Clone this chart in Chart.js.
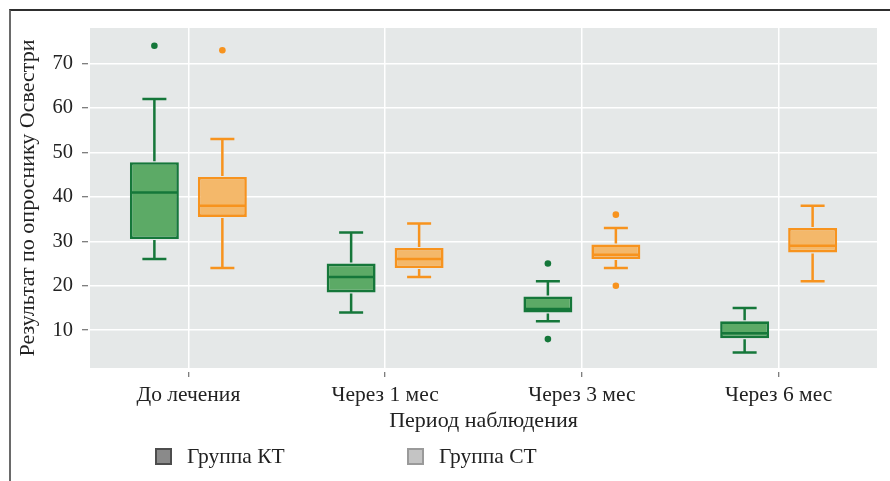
<!DOCTYPE html>
<html lang="ru">
<head>
<meta charset="utf-8">
<title>Результат по опроснику Освестри</title>
<script src="https://cdn.jsdelivr.net/npm/chart.js@4.4.1/dist/chart.umd.min.js"></script>
<style>
    html, body { margin: 0; padding: 0; background: #fff; }
    .frame {
        position: absolute; left: 9px; top: 9px; width: 881px; height: 472px;
        border-top: 2px solid #2e2e2e; border-left: 2px solid #6a6a6a;
    }
    #chart { position: absolute; left: 0; top: 0; }
</style>
</head>
<body>
<div class="frame"></div>
<canvas id="chart" width="890" height="481"></canvas>
<script>
// Categories (observation period)
const categories = ['До лечения', 'Через 1 мес', 'Через 3 мес', 'Через 6 мес'];

// Group KT - box statistics
const ktMin = [26, 14, 12, 5];
const ktQ1 = [30.5, 18.5, 14, 8.2];
const ktMedian = [41, 22, 14.8, 9.3];
const ktQ3 = [47.8, 25, 17.6, 12];
const ktMax = [62, 32, 21, 15];
const ktOutliers = [[74], [], [25, 8], []];

// Group CT - box statistics
const ctMin = [24, 22, 24, 21];
const ctQ1 = [35.5, 24, 26, 27.5];
const ctMedian = [38, 26, 27, 29];
const ctQ3 = [44.5, 28.5, 29.3, 33];
const ctMax = [53, 34, 33, 38];
const ctOutliers = [[73], [], [36, 20], []];

// Y axis ticks
const yTicks = [10, 20, 30, 40, 50, 60, 70];

const FONT = "'Liberation Serif', 'DejaVu Serif', serif";
const TEXT = '#222';

const groups = [
    { label: 'Группа КТ', min: ktMin, q1: ktQ1, med: ktMedian, q3: ktQ3, max: ktMax, out: ktOutliers,
      fill: '#5caa66', edge: '#15773a', legFill: '#8a8a8a', legEdge: '#4d4d4d' },
    { label: 'Группа СТ', min: ctMin, q1: ctQ1, med: ctMedian, q3: ctQ3, max: ctMax, out: ctOutliers,
      fill: '#f4b86a', edge: '#f7931e', legFill: '#c4c4c4', legEdge: '#9a9a9a' }
];

// plot panel background
const panelBg = {
    id: 'panelBg',
    beforeDraw(chart) {
        const { ctx, chartArea: a } = chart;
        ctx.save();
        ctx.fillStyle = '#e5e8e8';
        ctx.fillRect(a.left, a.top, a.right - a.left, a.bottom - a.top);
        ctx.restore();
    }
};

// whiskers, medians and outliers on top of the floating bars
const boxWhiskers = {
    id: 'boxWhiskers',
    afterDatasetsDraw(chart) {
        const ctx = chart.ctx;
        const y = chart.scales.y;
        groups.forEach((g, d) => {
            const meta = chart.getDatasetMeta(d);
            meta.data.forEach((bar, i) => {
                const x = bar.x;
                const half = bar.width / 2;
                const cap = 12;
                ctx.save();
                ctx.strokeStyle = g.edge;
                ctx.lineWidth = 2.5;
                ctx.lineCap = 'butt';
                ctx.beginPath();
                ctx.moveTo(x, y.getPixelForValue(g.q3[i]) - 1);
                ctx.lineTo(x, y.getPixelForValue(g.max[i]));
                ctx.moveTo(x - cap, y.getPixelForValue(g.max[i]));
                ctx.lineTo(x + cap, y.getPixelForValue(g.max[i]));
                ctx.moveTo(x, y.getPixelForValue(g.q1[i]) + 1);
                ctx.lineTo(x, y.getPixelForValue(g.min[i]));
                ctx.moveTo(x - cap, y.getPixelForValue(g.min[i]));
                ctx.lineTo(x + cap, y.getPixelForValue(g.min[i]));
                ctx.stroke();

                ctx.lineWidth = 2.5;
                ctx.beginPath();
                ctx.moveTo(x - half + 1, y.getPixelForValue(g.med[i]));
                ctx.lineTo(x + half - 1, y.getPixelForValue(g.med[i]));
                ctx.stroke();

                ctx.fillStyle = g.edge;
                g.out[i].forEach(v => {
                    ctx.beginPath();
                    ctx.arc(x, y.getPixelForValue(v), 3.3, 0, Math.PI * 2);
                    ctx.fill();
                });
                ctx.restore();
            });
        });
    }
};

// legend below the axis title
const bottomLegend = {
    id: 'bottomLegend',
    afterDraw(chart) {
        const ctx = chart.ctx;
        const items = [{ x: 155 }, { x: 407 }];
        ctx.save();
        ctx.font = '21.5px ' + FONT;
        ctx.textBaseline = 'alphabetic';
        groups.forEach((g, k) => {
            const sx = items[k].x;
            ctx.fillStyle = g.legFill;
            ctx.fillRect(sx, 448, 17, 17);
            ctx.strokeStyle = g.legEdge;
            ctx.lineWidth = 2;
            ctx.strokeRect(sx + 1, 449, 15, 15);
            ctx.fillStyle = TEXT;
            ctx.fillText(g.label, sx + 32, 463);
        });
        ctx.restore();
    }
};

new Chart(document.getElementById('chart'), {
    type: 'bar',
    data: {
        labels: categories,
        datasets: groups.map(g => ({
            label: g.label,
            data: g.q1.map((v, i) => [v, g.q3[i]]),
            backgroundColor: g.fill,
            borderColor: g.edge,
            borderWidth: 2.6,
            borderSkipped: false,
            categoryPercentage: 0.691,
            barPercentage: 0.72
        }))
    },
    options: {
        responsive: false,
        animation: false,
        layout: { padding: { top: 28, right: 13, left: 0, bottom: 0 } },
        plugins: {
            legend: { display: false },
            tooltip: { enabled: false }
        },
        scales: {
            x: {
                offset: true,
                afterFit(scale) { scale.height = 113; },
                border: { display: false },
                grid: {
                    offset: false,
                    color: '#ffffff',
                    lineWidth: 1.5,
                    tickColor: '#555',
                    tickWidth: 1,
                    tickLength: 9,
                    tickBorderDash: [0, 4, 5, 100]
                },
                ticks: { color: TEXT, font: { family: FONT, size: 21.5 }, padding: 5 },
                title: {
                    display: true,
                    text: 'Период наблюдения',
                    color: TEXT,
                    font: { family: FONT, size: 22 },
                    padding: { top: 0, bottom: 47 }
                }
            },
            y: {
                min: 1.5,
                max: 78,
                afterFit(scale) { scale.width = 90; },
                afterBuildTicks(scale) { scale.ticks = yTicks.map(v => ({ value: v })); },
                border: { display: false },
                grid: {
                    color: '#ffffff',
                    lineWidth: 1.5,
                    tickColor: '#555',
                    tickWidth: 1,
                    tickLength: 8,
                    tickBorderDash: [6, 100]
                },
                ticks: { color: TEXT, font: { family: FONT, size: 20.5 }, padding: 9 },
                title: {
                    display: true,
                    text: 'Результат по опроснику Освестри',
                    color: TEXT,
                    font: { family: FONT, size: 22 },
                    padding: { top: 15, bottom: 0 }
                }
            }
        }
    },
    plugins: [panelBg, boxWhiskers, bottomLegend]
});
</script>
</body>
</html>
